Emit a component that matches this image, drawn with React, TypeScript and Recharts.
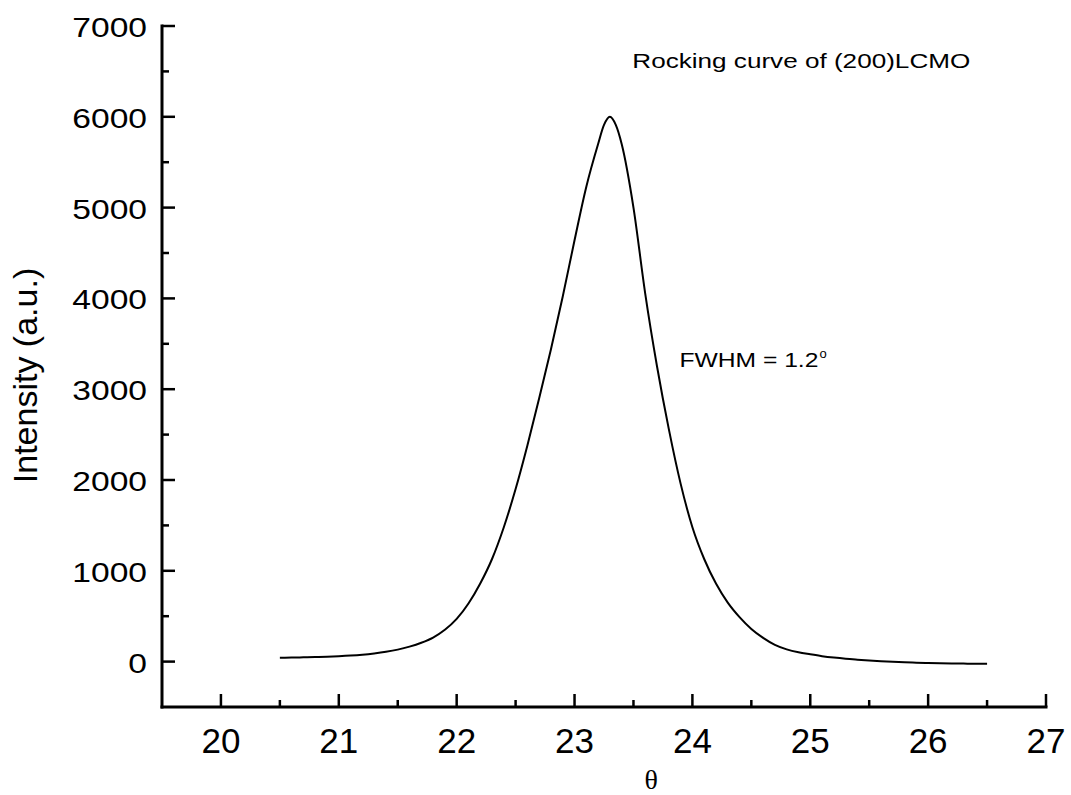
import React from 'react';
import { LineChart, Line, XAxis, YAxis, ReferenceDot } from 'recharts';

// rocking curve samples
const THETA = [
  20.5, 20.6, 20.7, 20.8, 20.9, 21.0, 21.1, 21.2, 21.3, 21.4,
  21.5, 21.6, 21.7, 21.8, 21.9, 22.0, 22.1, 22.2, 22.3, 22.4,
  22.5, 22.6, 22.7, 22.8, 22.9, 23.0, 23.1, 23.2, 23.25, 23.3, 23.35, 23.4,
  23.5, 23.6, 23.7, 23.8, 23.9, 24.0, 24.1, 24.2, 24.3, 24.4,
  24.5, 24.6, 24.7, 24.8, 24.9, 25.0, 25.1, 25.2, 25.3, 25.4,
  25.5, 25.6, 25.7, 25.8, 25.9, 26.0, 26.1, 26.2, 26.3, 26.4, 26.5,
];

const INTENSITY = [
  42, 44, 47, 50, 54, 59, 66, 76, 90, 108,
  132, 165, 208, 265, 350, 470, 640, 860, 1130, 1480,
  1900, 2380, 2900, 3440, 4020, 4640, 5230, 5700, 5910, 6000, 5910, 5700,
  5000, 4050, 3250, 2560, 1960, 1480, 1130, 860, 650, 490,
  360, 262, 185, 135, 102, 80, 60, 44, 31, 21,
  12, 5, -2, -8, -12, -16, -19, -21, -22, -23, -23,
];

const X_TICKS = [20, 20.5, 21, 21.5, 22, 22.5, 23, 23.5, 24, 24.5, 25, 25.5, 26, 26.5, 27];
const Y_TICKS = [0, 500, 1000, 1500, 2000, 2500, 3000, 3500, 4000, 4500, 5000, 5500, 6000, 6500, 7000];

const TITLE_TEXT = 'Rocking curve of (200)LCMO';
const FWHM_TEXT = 'FWHM = 1.2';
const X_TITLE = 'θ';
const Y_TITLE = 'Intensity (a.u.)';

const data = THETA.map((t, i) => ({ theta: t, intensity: INTENSITY[i] }));

const FONT = '"Liberation Sans", Arial, sans-serif';

function XTick({ x, y, payload }: any) {
  const major = Number.isInteger(payload.value);
  return (
    <g>
      <line x1={x} x2={x} y1={y} y2={y - (major ? 13 : 7)} stroke="#000" strokeWidth={2.5} />
      {major && (
        <text x={x} y={y + 46} textAnchor="middle" fontSize={35} fontFamily={FONT} fill="#000">
          {payload.value}
        </text>
      )}
    </g>
  );
}

function YTick({ x, y, payload }: any) {
  const major = payload.value % 1000 === 0;
  return (
    <g>
      <line x1={x} x2={x + (major ? 13 : 7)} y1={y} y2={y} stroke="#000" strokeWidth={2.5} />
      {major && (
        <g transform={`translate(${x - 15},${y + 11}) scale(1.2,1)`}>
          <text x={0} y={0} textAnchor="end" fontSize={28} fontFamily={FONT} fill="#000">
            {payload.value}
          </text>
        </g>
      )}
    </g>
  );
}

export default function App() {
  return (
    <div style={{ position: 'absolute', left: 0, top: 0, background: '#fff' }}>
      <LineChart width={1071} height={795} data={data} margin={{ top: 26, right: 25, bottom: 28, left: 62 }}>
        <XAxis
          dataKey="theta"
          type="number"
          domain={[19.5, 27]}
          ticks={X_TICKS}
          interval={0}
          tickSize={0}
          tickMargin={0}
          tickLine={false}
          tick={<XTick />}
          height={60}
          axisLine={{ stroke: '#000', strokeWidth: 3, strokeLinecap: 'square' }}
          label={{
            content: ({ viewBox }: any) => (
              <text
                x={viewBox.x + (viewBox.width * (23.65 - 19.5)) / 7.5}
                y={viewBox.y + 82}
                textAnchor="middle"
                fontSize={28}
                fontFamily='"Liberation Serif", "Times New Roman", serif'
                fill="#000"
              >
                {X_TITLE}
              </text>
            ),
          }}
        />
        <XAxis
          xAxisId="top"
          orientation="top"
          dataKey="theta"
          type="number"
          domain={[19.5, 27]}
          height={0}
          tick={false}
          tickLine={false}
          axisLine={{ stroke: '#000', strokeWidth: 3, strokeLinecap: 'square' }}
        />
        <YAxis
          type="number"
          domain={[-500, 7000]}
          ticks={Y_TICKS}
          interval={0}
          tickSize={0}
          tickMargin={0}
          tickLine={false}
          tick={<YTick />}
          width={100}
          axisLine={{ stroke: '#000', strokeWidth: 3, strokeLinecap: 'square' }}
          label={{
            content: ({ viewBox }: any) => {
              const cx = 37;
              const cy = viewBox.y + viewBox.height / 2 + 9;
              return (
                <text
                  x={cx}
                  y={cy}
                  transform={`rotate(-90, ${cx}, ${cy})`}
                  textAnchor="middle"
                  fontSize={34}
                  fontFamily={FONT}
                  fill="#000"
                >
                  {Y_TITLE}
                </text>
              );
            },
          }}
        />
        <YAxis
          yAxisId="right"
          orientation="right"
          type="number"
          domain={[-500, 7000]}
          width={0}
          tick={false}
          tickLine={false}
          axisLine={{ stroke: '#000', strokeWidth: 3, strokeLinecap: 'square' }}
        />
        <Line
          type="monotone"
          dataKey="intensity"
          stroke="#000"
          strokeWidth={2}
          dot={false}
          isAnimationActive={false}
        />
        <ReferenceDot
          x={23.49}
          y={6535}
          r={0}
          fill="none"
          stroke="none"
          label={(props: any) => (
            <text
              x={props.viewBox.x}
              y={props.viewBox.y}
              fontSize={21}
              fontFamily={FONT}
              fill="#000"
              textLength={338}
              lengthAdjust="spacingAndGlyphs"
            >
              {TITLE_TEXT}
            </text>
          )}
        />
        <ReferenceDot
          x={23.89}
          y={3244}
          r={0}
          fill="none"
          stroke="none"
          label={(props: any) => (
            <g>
              <text
                x={props.viewBox.x}
                y={props.viewBox.y}
                fontSize={21}
                fontFamily={FONT}
                fill="#000"
                textLength={139}
                lengthAdjust="spacingAndGlyphs"
              >
                {FWHM_TEXT}
              </text>
              <text x={props.viewBox.x + 140} y={props.viewBox.y - 9} fontSize={13} fontFamily={FONT} fill="#000">
                o
              </text>
            </g>
          )}
        />
      </LineChart>
    </div>
  );
}
